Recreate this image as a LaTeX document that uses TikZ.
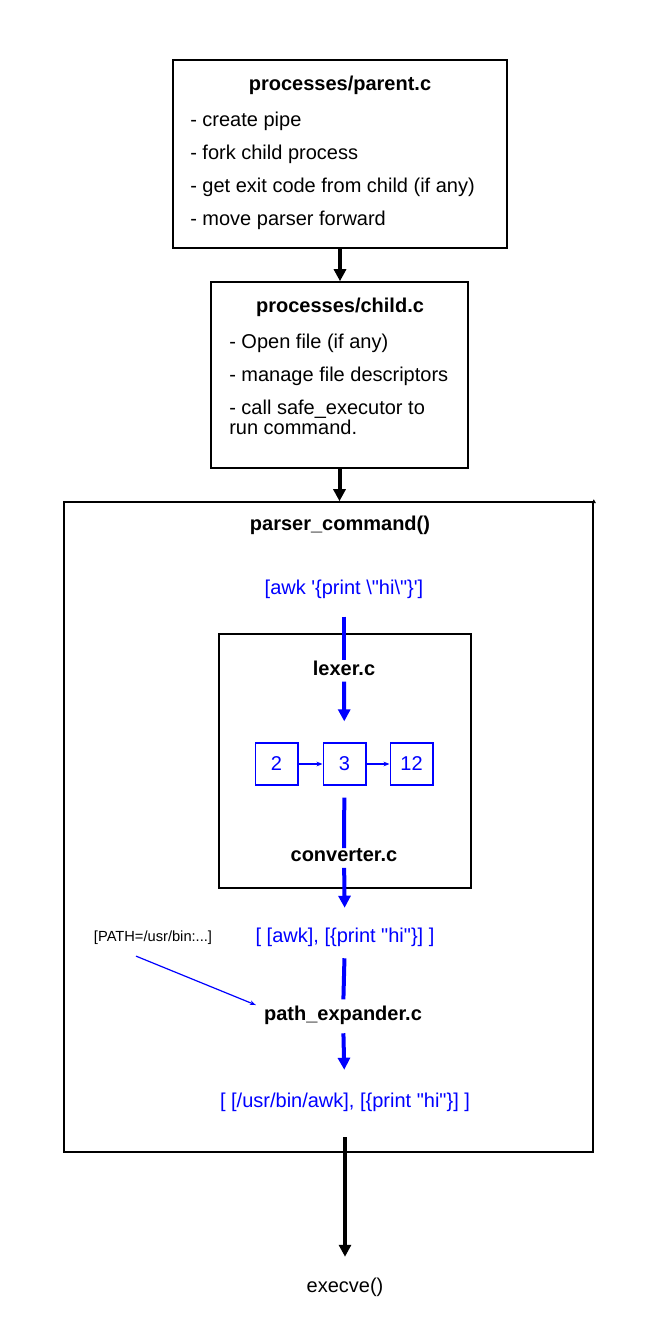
\documentclass[tikz,border=0pt]{standalone}
\usepackage{fontspec}
\setmainfont{Liberation Sans}
\usetikzlibrary{%
  calc,%
  arrows.meta%
}

\begin{document}
\begin{tikzpicture}[x=0.75pt,y=-0.75pt,
  txt/.style={font=\fontsize{15pt}{15pt}\selectfont,inner sep=3pt},
  ttl/.style={txt,font=\fontsize{15pt}{15pt}\selectfont\bfseries},
  blu/.style={txt,text=blue},
  box/.style={draw,line width=1.2pt,inner sep=0pt},
  tok/.style={draw=blue,text=blue,line width=1pt,minimum width=32pt,minimum height=31.5pt,inner sep=0pt,font=\fontsize{15pt}{15pt}\selectfont},
  blk/.style={line width=3pt,-{Triangle[length=9pt,width=9pt]}},
  flow/.style={blue,line width=3pt},
  flowarr/.style={flow,-{Triangle[length=9pt,width=9pt]}},
  thinarr/.style={blue,line width=0.9pt,-{Stealth[length=4.5pt,width=3.5pt]}}
]
\useasboundingbox (0,0) rectangle (657,1322);

\node[box,minimum width=250.5pt,minimum height=141pt] (parent) at (340,154) {};
\node[ttl] (parentT) at (340,85) {processes/parent.c};
\node[txt,align=left,anchor=west] (parentL) at (186,171) {- create pipe\\[9.75pt]- fork child process\\[9.75pt]- get exit code from child (if any)\\[9.75pt]- move parser forward};

\node[box,minimum width=192.75pt,minimum height=139.5pt] (child) at (339.5,375) {};
\node[ttl] (childT) at (340,307) {processes/child.c};
\node[txt,align=left,anchor=west] (childL) at (225,384) {- Open file (if any)\\[9.75pt]- manage file descriptors\\[9.75pt]- call safe\_executor to\\run command.};

\node[box,minimum width=396.75pt,minimum height=487.5pt] (parser) at (328.5,827) {};
\node[ttl] (parserT) at (340,525) {parser\_command()};
\node[blu] (cmd) at (344,589) {[awk \textquotesingle\{print \textbackslash\textquotedbl hi\textbackslash\textquotedbl\}\textquotesingle]};

\node[box,minimum width=189pt,minimum height=190.5pt] (inner) at (345,761) {};
\node[ttl] (lexer) at (344,668) {lexer.c};
\node[tok] (t2) at (276.5,764) {2};
\node[tok] (t3) at (344.5,764) {3};
\node[tok] (t12) at (411.5,764) {12};
\node[ttl] (conv) at (344,855) {converter.c};

\node[blu] (tokens) at (345,937) {[ [awk], [\{print \textquotedbl hi\textquotedbl\}] ]};
\node[txt,font=\fontsize{11pt}{11pt}\selectfont] (pathvar) at (153,938) {[PATH=/usr/bin:...]};
\node[ttl] (expander) at (343,1015) {path\_expander.c};
\node[blu] (argv) at (345,1102) {[ [/usr/bin/awk], [\{print \textquotedbl hi\textquotedbl\}] ]};
\node[txt] (execve) at (345,1287) {execve()};

% process chain
\draw[blk] (parent.south) -- (parent.south |- child.north);
\draw[blk] (child.south) -- (child.south |- parser.north);
\draw[line width=0.6pt,-{Triangle[length=3pt,width=3pt]}] ($(parser.north east)+(0,8)$) -- ($(parser.north east)+(0,-2)$);

% inside parser_command()
\draw[flow,shorten <=10.5pt,shorten >=-2.8pt] (cmd) -- (lexer);
\draw[flowarr,shorten <=1.5pt,shorten >=15.75pt] (lexer) -- (t3);
\draw[thinarr] (t2) -- (t3);
\draw[thinarr] (t3) -- (t12);
\draw[flow,shorten <=9pt,shorten >=-3pt] (t3) -- (conv);
\draw[flowarr,shorten <=1.5pt,shorten >=11.75pt] (conv) -- (tokens);
\draw[flow,shorten <=5.75pt,shorten >=1.5pt] (tokens) -- (expander);
\draw[thinarr] ($(pathvar.south)+(-17,7)$) -- ($(expander.west)+(-4,-10)$);
\draw[flowarr,shorten <=3.5pt,shorten >=14pt] (expander) -- (argv);
\draw[blk,shorten <=16.2pt,shorten >=12.5pt] (argv) -- (execve);
\end{tikzpicture}
\end{document}
